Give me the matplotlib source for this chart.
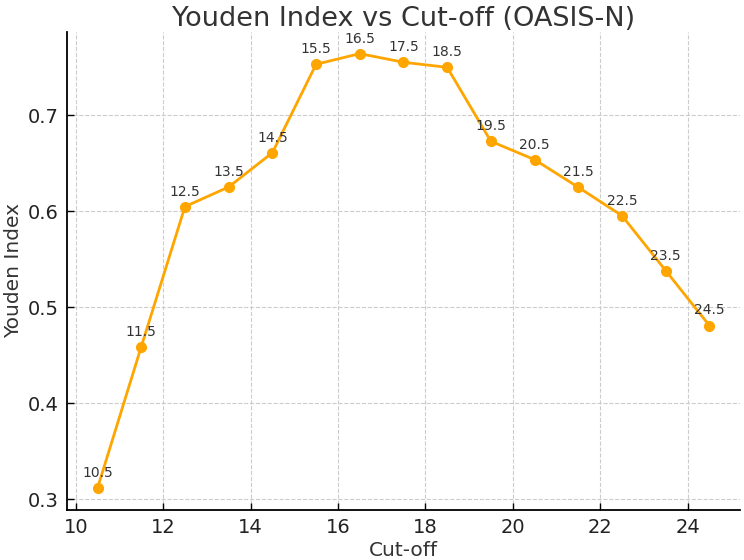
import matplotlib
matplotlib.use("Agg")
import matplotlib.pyplot as plt

# cut-off values and the Youden index
cutoffs = [10.5, 11.5, 12.5, 13.5, 14.5, 15.5, 16.5, 17.5, 18.5,
           19.5, 20.5, 21.5, 22.5, 23.5, 24.5]
youden = [0.3115, 0.4588, 0.6048, 0.6253, 0.6610, 0.7532, 0.7643, 0.7553,
          0.7500, 0.6729, 0.6538, 0.6250, 0.5954, 0.5381, 0.4808]

fig = plt.figure(figsize=(7.44, 5.6), dpi=100)
ax = fig.add_axes([0.090, 0.0898, 0.9046, 0.8532])

ax.plot(cutoffs, youden, color="orange", marker="o", markersize=7, linewidth=2)

for x, y in zip(cutoffs, youden):
    ax.annotate(f"{x}", (x, y), textcoords="offset points", xytext=(0, 8),
                ha="center", fontsize=10, color="#333333")

ax.set_title("Youden Index vs Cut-off (OASIS-N)", fontsize=19.5, color="#333333", pad=4)
ax.set_xlabel("Cut-off", fontsize=14.5, color="#333333", labelpad=3)
ax.set_ylabel("Youden Index", fontsize=14.5, color="#333333", labelpad=3)

ax.set_xticks([10, 12, 14, 16, 18, 20, 22, 24])
ax.set_yticks([0.3, 0.4, 0.5, 0.6, 0.7])
ax.tick_params(direction="in", length=5, width=1, labelsize=14, labelcolor="#222222", pad=6)

ax.grid(True, linestyle="--", color="#cccccc", linewidth=0.8)
ax.set_axisbelow(True)
for side in ["top", "right"]:
    ax.spines[side].set_visible(False)
for side in ["left", "bottom"]:
    ax.spines[side].set_linewidth(1.3)

fig.savefig("out.png", dpi=100)
